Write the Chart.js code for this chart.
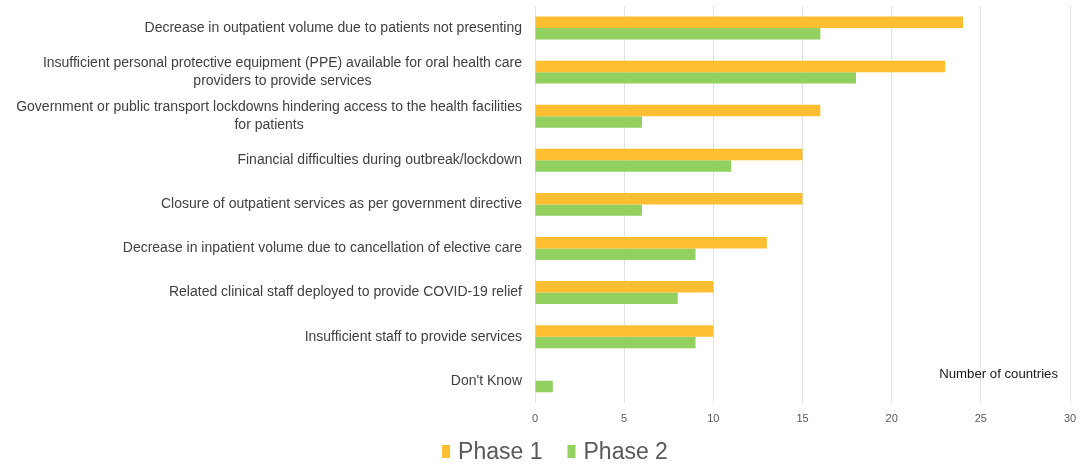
<!DOCTYPE html>
<html>
<head>
<meta charset="utf-8">
<script src="https://cdn.jsdelivr.net/npm/chart.js@4"></script>
<style>
html,body{margin:0;padding:0;background:#fff;}
#wrap{width:1090px;height:465px;position:relative;}
</style>
</head>
<body>
<div id="wrap"><canvas id="c" width="1090" height="465"></canvas></div>
<script>
const categories = [
  ["Decrease in outpatient volume due to patients not presenting"],
  ["Insufficient personal protective equipment (PPE) available for oral health care", "providers to provide services"],
  ["Government or public transport lockdowns hindering access to the health facilities", "for patients"],
  ["Financial difficulties during outbreak/lockdown"],
  ["Closure of outpatient services as per government directive"],
  ["Decrease in inpatient volume due to cancellation of elective care"],
  ["Related clinical staff deployed to provide COVID-19 relief"],
  ["Insufficient staff to provide services"],
  ["Don't Know"]
];
const phase1 = [24, 23, 16, 15, 15, 13, 10, 10, 0];
const phase2 = [16, 18, 6, 11, 6, 9, 8, 9, 1];
const xTicks = [0, 5, 10, 15, 20, 25, 30];
const seriesNames = ["Phase 1", "Phase 2"];
const seriesColors = ["#FDBE31", "#92D05F"];
const axisNote = "Number of countries";

const FAMILY = '"Liberation Sans", Arial, sans-serif';
const labelPlugin = {
  id: 'catLabels',
  afterDraw(chart) {
    const ctx = chart.ctx;
    const ys = chart.scales.y;
    const xs = chart.scales.x;
    ctx.save();
    // category labels (multi-line centred under the widest line)
    ctx.font = '14px ' + FAMILY;
    ctx.fillStyle = '#404040';
    ctx.textBaseline = 'middle';
    ctx.textAlign = 'center';
    const right = chart.chartArea.left - 13;
    const lh = 18;
    chart.data.labels.forEach((lab, i) => {
      const y = ys.getPixelForTick(i);
      const lines = Array.isArray(lab) ? lab : [lab];
      const w = Math.max(...lines.map(l => ctx.measureText(l).width));
      const cx = right - w / 2;
      const y0 = y - (lines.length - 1) * lh / 2;
      lines.forEach((l, k) => ctx.fillText(l, cx, y0 + k * lh));
    });
    // axis note
    ctx.font = '13.2px ' + FAMILY;
    ctx.fillStyle = '#161616';
    ctx.textAlign = 'right';
    ctx.fillText(axisNote, xs.getPixelForValue(30) - 12, chart.chartArea.bottom - 28);
    // legend
    ctx.font = '23px ' + FAMILY;
    ctx.textAlign = 'left';
    const boxW = 8, boxH = 13, gap = 8, itemGap = 25;
    const widths = seriesNames.map(n => boxW + gap + ctx.measureText(n).width);
    const total = widths.reduce((a, b) => a + b, 0) + itemGap * (seriesNames.length - 1);
    let x = (chart.width - total) / 2 + 10;
    const cy = 452;
    seriesNames.forEach((n, k) => {
      ctx.fillStyle = seriesColors[k];
      ctx.fillRect(x, cy - 7, boxW, boxH);
      ctx.fillStyle = '#595959';
      ctx.fillText(n, x + boxW + gap, cy + 1);
      x += widths[k] + itemGap;
    });
    ctx.restore();
  }
};

new Chart(document.getElementById('c'), {
  type: 'bar',
  data: {
    labels: categories,
    datasets: [
      { label: seriesNames[0], data: phase1, backgroundColor: seriesColors[0], borderWidth: 0 },
      { label: seriesNames[1], data: phase2, backgroundColor: seriesColors[1], borderWidth: 0 }
    ]
  },
  options: {
    indexAxis: 'y',
    responsive: false,
    animation: false,
    layout: { padding: { top: 6, right: 20, left: 0, bottom: 29 } },
    datasets: { bar: { categoryPercentage: 0.52, barPercentage: 1 } },
    scales: {
      x: {
        min: 0, max: 30,
        afterBuildTicks(scale) { scale.ticks = xTicks.map(v => ({ value: v })); },
        grid: { color: '#e3e3e3', lineWidth: 1, drawTicks: false },
        border: { display: false },
        ticks: { color: '#595959', font: { size: 11, family: FAMILY }, padding: 10 }
      },
      y: {
        grid: { display: false },
        border: { display: false },
        ticks: { display: false },
        afterFit(scale) { scale.width = 535; }
      }
    },
    plugins: {
      legend: { display: false },
      tooltip: { enabled: false }
    }
  },
  plugins: [labelPlugin]
});
</script>
</body>
</html>
